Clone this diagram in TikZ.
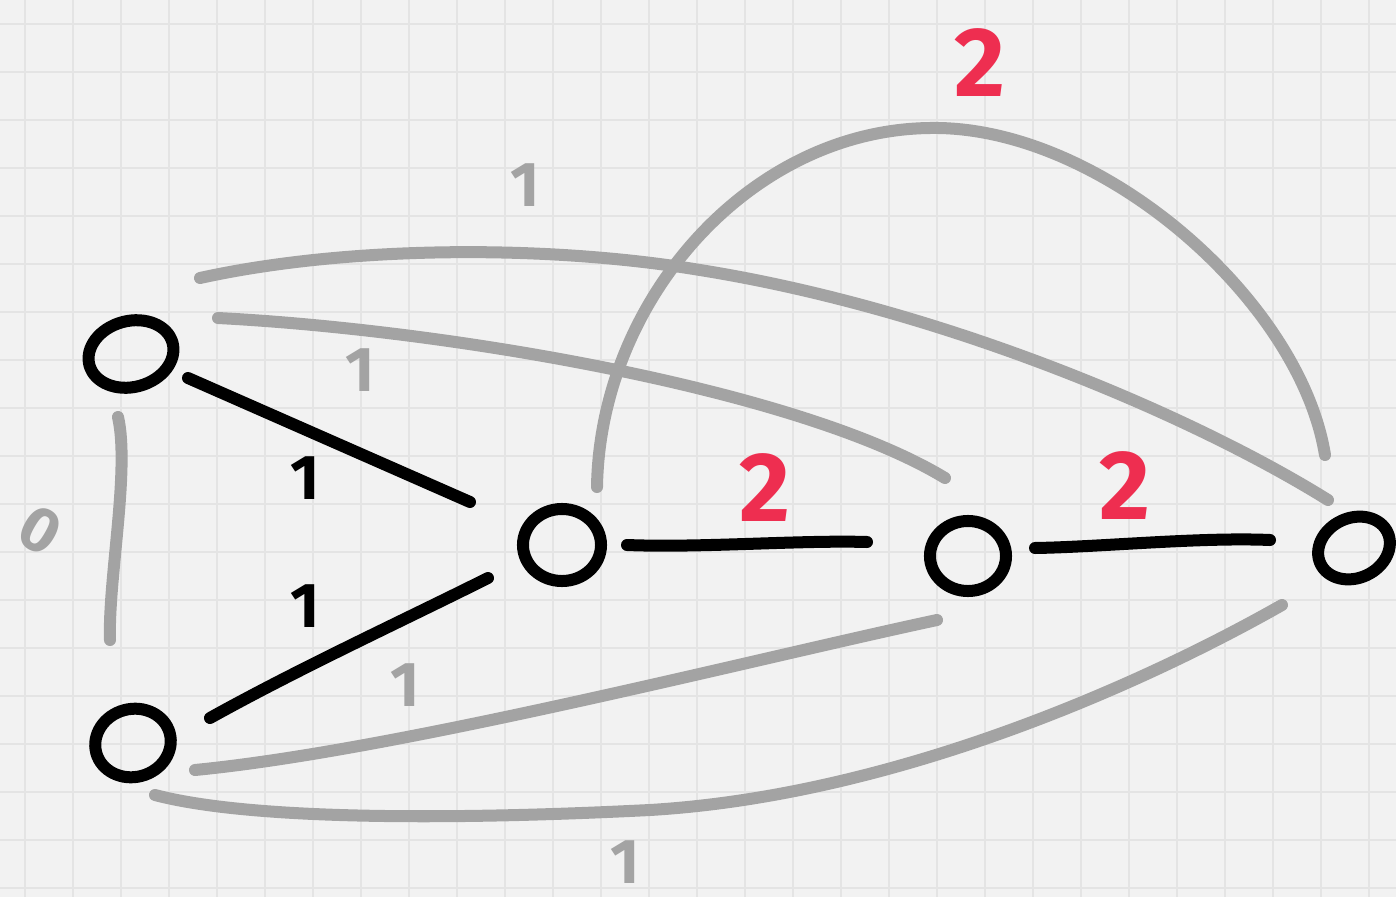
\documentclass[tikz,border=0pt]{standalone}
\usepackage{fontspec}
\setmainfont{Fira Sans}
\usetikzlibrary{calc,shapes.geometric}
\definecolor{paper}{HTML}{F2F2F2}
\definecolor{gridc}{HTML}{E4E4E4}
\definecolor{edgegray}{HTML}{A3A3A3}
\definecolor{labred}{HTML}{EE2E50}
\begin{document}
\begin{tikzpicture}[x=0.01cm,y=-0.01cm,
  ring/.style={ellipse, draw=black, line width=0.12cm, inner sep=0pt},
  blackedge/.style={draw=black, line width=0.12cm, line cap=round},
  grayedge/.style={draw=edgegray, line width=0.12cm, line cap=round},
  graylab/.style={text=edgegray, inner sep=0pt, font=\bfseries\fontsize{18}{18}\selectfont},
  blacklab/.style={text=black, inner sep=0pt, font=\bfseries\fontsize{18}{18}\selectfont},
  redlab/.style={text=labred, inner sep=0pt, font=\bfseries\fontsize{28}{28}\selectfont}]
% paper
\useasboundingbox (0,0) rectangle (1396,897);
\fill[paper] (0,0) rectangle (1396,897);
\foreach \gx in {25,73,...,1396} \draw[gridc, line width=0.012cm] (\gx,0) -- (\gx,897);
\foreach \gy in {24,72,...,897} \draw[gridc, line width=0.012cm] (0,\gy) -- (1396,\gy);
% vertices
\node[ring, minimum width=0.86cm, minimum height=0.66cm, rotate=15] (A) at (131,354) {};
\node[ring, minimum width=0.76cm, minimum height=0.68cm, rotate=15] (B) at (133,743) {};
\node[ring, minimum width=0.78cm, minimum height=0.72cm] (C) at (562,545) {};
\node[ring, minimum width=0.76cm, minimum height=0.70cm] (D) at (968,556) {};
\node[ring, minimum width=0.74cm, minimum height=0.60cm, rotate=25] (E) at (1354,548) {};
% gray edges
\draw[grayedge] ($(A)+(-13,63)$) .. controls (130,470) and (108,580) .. ($(B)+(-23,-103)$);
\draw[grayedge] ($(A)+(87,-36)$) .. controls (450,330) and (800,390) .. ($(D)+(-23,-78)$);
\draw[grayedge] ($(A)+(69,-76)$) .. controls (350,245) and (550,245) .. (700,270)
   .. controls (950,310) and (1200,420) .. ($(E)+(-26,-48)$);
\draw[grayedge] ($(C)+(35,-58)$) .. controls (600,300) and (750,130) .. (930,128)
   .. controls (1100,125) and (1300,300) .. ($(E)+(-29,-93)$);
\draw[grayedge] ($(B)+(62,27)$) .. controls (400,750) and (750,660) .. ($(D)+(-31,64)$);
\draw[grayedge] ($(B)+(22,52)$) .. controls (250,820) and (450,820) .. (650,810)
   .. controls (900,795) and (1150,680) .. ($(E)+(-72,57)$);
% black edges
\draw[blackedge] ($(A)+(57,24)$) -- ($(C)+(-92,-43)$);
\draw[blackedge] ($(B)+(77,-25)$) .. controls (300,668) and (400,622) .. ($(C)+(-74,33)$);
\draw[blackedge] ($(C)+(65,0)$) .. controls (700,548) and (800,540) .. ($(D)+(-101,-14)$);
\draw[blackedge] ($(D)+(67,-8)$) .. controls (1100,547) and (1200,537) .. ($(E)+(-84,-8)$);
% labels
\node[graylab, rotate=-30] (l0) at (40,530) {0};
\node[blacklab] (lac) at (305,478) {1};
\node[blacklab] (lbc) at (305,606) {1};
\node[graylab] (lad) at (360,370) {1};
\node[graylab] (lae) at (525,185) {1};
\node[graylab] (lbd) at (405,685) {1};
\node[graylab] (lbe) at (625,862) {1};
\node[redlab] (lcd) at (765,488) {2};
\node[redlab] (lde) at (1125,486) {2};
\node[redlab] (lce) at (980,63) {2};
\end{tikzpicture}
\end{document}
